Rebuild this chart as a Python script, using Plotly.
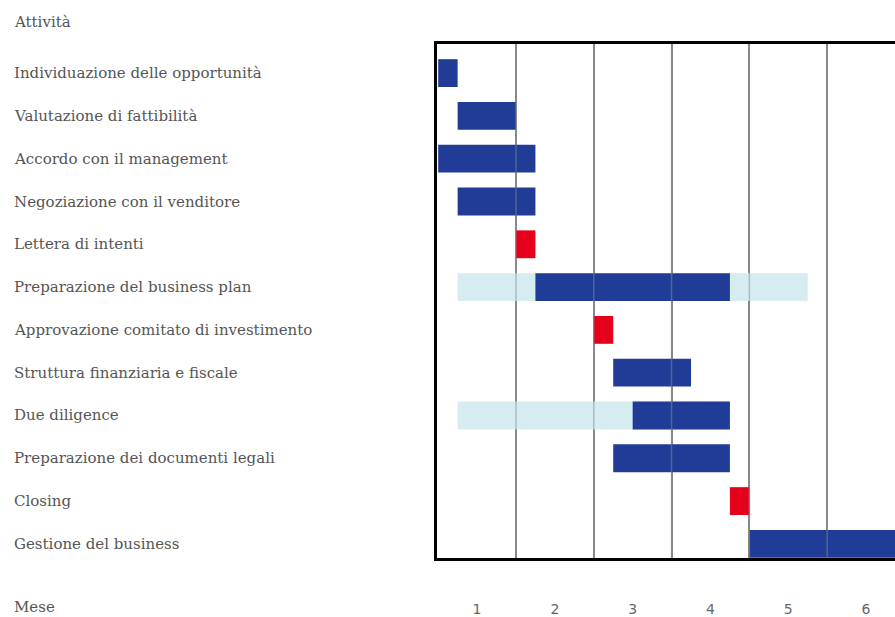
import plotly.graph_objects as go

# ---- data ----
activities = [
    "Individuazione delle opportunità",
    "Valutazione di fattibilità",
    "Accordo con il management",
    "Negoziazione con il venditore",
    "Lettera di intenti",
    "Preparazione del business plan",
    "Approvazione comitato di investimento",
    "Struttura finanziaria e fiscale",
    "Due diligence",
    "Preparazione dei documenti legali",
    "Closing",
    "Gestione del business",
]
# main (dark blue) tasks: start month, end month
task_start = [0.0, 0.25, 0.0, 0.25, None, 1.25, None, 2.25, 2.5, 2.25, None, 4.0]
task_end   = [0.25, 1.0, 1.25, 1.25, None, 3.75, None, 3.25, 3.75, 3.75, None, 6.0]
# milestones (red)
mile_start = [None, None, None, None, 1.0, None, 2.0, None, None, None, 3.75, None]
mile_end   = [None, None, None, None, 1.25, None, 2.25, None, None, None, 4.0, None]
# extended window (light blue)
ext_start  = [None, None, None, None, None, 0.25, None, None, 0.25, None, None, None]
ext_end    = [None, None, None, None, None, 4.75, None, None, 3.75, None, None, None]

months = [1, 2, 3, 4, 5, 6]
month_boundaries = [1, 2, 3, 4, 5]

DARK = "#203c96"
RED = "#e5001b"
LIGHT = "#d5edf1"
TEXT = "#555555"

rows = list(range(len(activities)))


def bar_trace(starts, ends, color):
    ys, bases, lens = [], [], []
    for r, s, e in zip(rows, starts, ends):
        if s is None:
            continue
        ys.append(r)
        bases.append(s)
        lens.append(e - s)
    return go.Bar(y=ys, x=lens, base=bases, orientation="h", width=0.65,
                  marker=dict(color=color, line=dict(width=0)),
                  showlegend=False, hoverinfo="skip")


fig = go.Figure()
fig.add_trace(bar_trace(ext_start, ext_end, LIGHT))
fig.add_trace(bar_trace(task_start, task_end, DARK))
fig.add_trace(bar_trace(mile_start, mile_end, RED))

W, H = 895, 617
L, R, T, B = 437, 0, 44, 59
px_per_month = 77.8
x0 = -0.015
x1 = x0 + (W - L - R) / px_per_month

fig.update_layout(
    width=W, height=H,
    margin=dict(l=L, r=R, t=T, b=B),
    paper_bgcolor="white", plot_bgcolor="white",
    barmode="overlay",
    xaxis=dict(
        range=[x0, x1],
        tickvals=[m - 0.5 for m in months],
        ticktext=[str(m) for m in months],
        ticks="outside", ticklen=36, tickcolor="rgba(0,0,0,0)",
        tickfont=dict(family="DejaVu Sans", size=14, color="#666666"),
        showgrid=False, zeroline=False,
        showline=True, linewidth=3, linecolor="black", mirror=True,
        minor=dict(tickvals=month_boundaries, showgrid=True,
                   gridcolor="#8a8a8a", gridwidth=2, ticks=""),
    ),
    yaxis=dict(
        range=[len(activities) - 1 + 0.33, -0.68],
        showticklabels=False, showgrid=False, zeroline=False,
        showline=True, linewidth=3, linecolor="black", mirror=False,
    ),
)

# grid lines seen through the bars
for m in month_boundaries:
    fig.add_shape(type="line", xref="x", yref="paper", x0=m, x1=m, y0=0, y1=1,
                  line=dict(color="rgba(138,138,138,0.5)", width=1.5), layer="above")

plot_w = W - L - R
label_x = (12 - L) / plot_w
for r, name in zip(rows, activities):
    fig.add_annotation(x=label_x, xref="paper", y=r, yref="y", text=name,
                       showarrow=False, xanchor="left", yanchor="middle",
                       font=dict(family="DejaVu Serif", size=15, color=TEXT))

plot_h = H - T - B
fig.add_annotation(x=label_x, xref="paper", y=1 + (T - 22) / plot_h, yref="paper",
                   text="Attività", showarrow=False, xanchor="left", yanchor="middle",
                   font=dict(family="DejaVu Serif", size=15, color=TEXT))
fig.add_annotation(x=label_x, xref="paper", y=-(607 - (H - B)) / plot_h, yref="paper",
                   text="Mese", showarrow=False, xanchor="left", yanchor="middle",
                   font=dict(family="DejaVu Serif", size=15, color=TEXT))

fig.write_html("out.html")
